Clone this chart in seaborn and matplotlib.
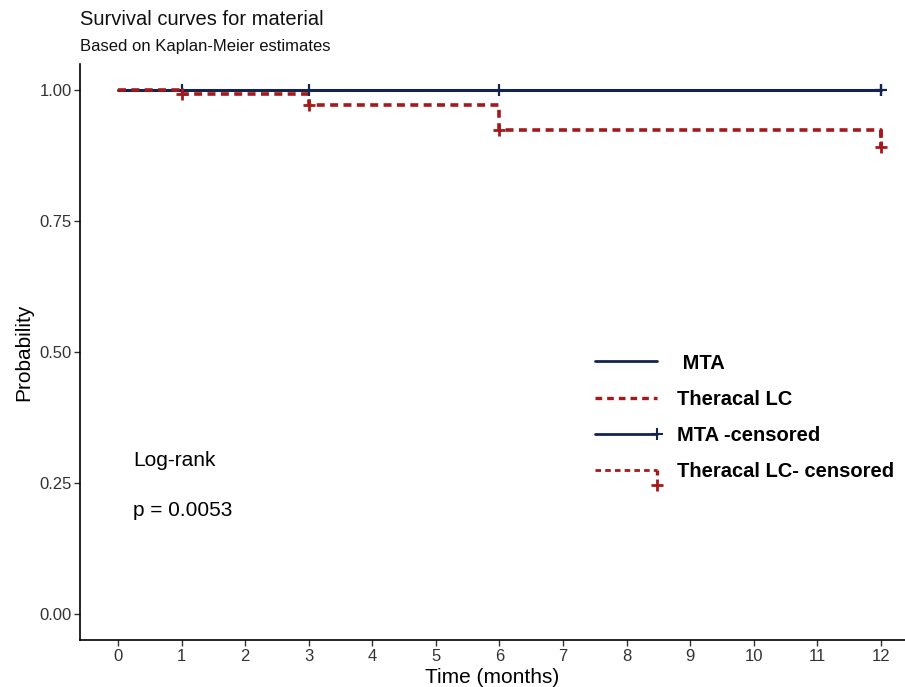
import pandas as pd
import seaborn as sns
import matplotlib
matplotlib.use("Agg")
import matplotlib.pyplot as plt
from matplotlib.lines import Line2D
from matplotlib.legend_handler import HandlerBase

# survival curve data
mta_time = [0, 1, 3, 6, 12]
mta_surv = [1.0, 1.0, 1.0, 1.0, 1.0]
mta_cens_time = [1, 3, 6, 12]
mta_cens_surv = [1.0, 1.0, 1.0, 1.0]

thc_time = [0, 1, 3, 6, 12]
thc_surv = [1.0, 0.992, 0.971, 0.923, 0.891]
thc_cens_time = [1, 3, 6, 12]
thc_cens_surv = [0.992, 0.971, 0.923, 0.891]

x_ticks = list(range(0, 13))
y_ticks = [0.0, 0.25, 0.5, 0.75, 1.0]
legend_labels = [" MTA", "Theracal LC", "MTA -censored", "Theracal LC- censored"]

mta_col = "#14254d"
thc_col = "#a3191c"
dash = (0, (2.2, 1.5))

curves = pd.DataFrame({
    "time": mta_time + thc_time,
    "surv": mta_surv + thc_surv,
    "group": ["MTA"] * len(mta_time) + ["Theracal LC"] * len(thc_time),
})
cens = pd.DataFrame({
    "time": mta_cens_time + thc_cens_time,
    "surv": mta_cens_surv + thc_cens_surv,
    "group": ["MTA"] * len(mta_cens_time) + ["Theracal LC"] * len(thc_cens_time),
})

sns.set_theme(style="ticks")
plt.rcParams["font.family"] = ["Liberation Sans", "DejaVu Sans"]

fig = plt.figure(figsize=(9.05, 6.87), dpi=100)
ax = fig.add_axes([0.0884, 0.068, 0.9116, 0.839])

# MTA solid step curve
sns.lineplot(data=curves[curves.group == "MTA"], x="time", y="surv",
             drawstyle="steps-post", color=mta_col, lw=2.2, ax=ax, legend=False)
# Theracal dashed step curve, plus the final drop at 12 months
thc = curves[curves.group == "Theracal LC"]
ax.step(thc.time, thc.surv, where="post", color=thc_col, lw=2.6, linestyle=dash)
ax.plot([thc.time.iloc[-1], thc.time.iloc[-1]],
        [thc.surv.iloc[-2], thc.surv.iloc[-1]],
        color=thc_col, lw=2.6, linestyle=dash)

# censor marks
mta_c = cens[cens.group == "MTA"]
sns.scatterplot(data=mta_c, x="time", y="surv", marker="|",
                s=70, color=mta_col, linewidth=1.6, ax=ax, legend=False, zorder=4)
sns.scatterplot(data=mta_c.iloc[-1:], x="time", y="surv", marker="+",
                s=70, color=mta_col, linewidth=1.6, ax=ax, legend=False, zorder=4)
sns.scatterplot(data=cens[cens.group == "Theracal LC"], x="time", y="surv", marker="+",
                s=70, color=thc_col, linewidth=2.0, ax=ax, legend=False, zorder=5)

ax.set_xlim(-0.6, 12.38)
ax.set_ylim(-0.05, 1.05)
ax.set_xticks(x_ticks)
ax.set_yticks(y_ticks)
ax.set_yticklabels([f"{v:.2f}" for v in y_ticks])
ax.tick_params(labelsize=12, length=4, width=1, pad=2, color="#333333",
               labelcolor="#333333")
ax.set_xlabel("Time (months)", fontsize=15, labelpad=3, color="black")
ax.set_ylabel("Probability", fontsize=15, labelpad=4, color="black")
sns.despine(ax=ax)
for s in ["left", "bottom"]:
    ax.spines[s].set_color("black")
    ax.spines[s].set_linewidth(1.2)

fig.text(0.0884, 0.972, "Survival curves for material", fontsize=14.5,
         ha="left", va="center", color="#111111")
fig.text(0.0884, 0.933, "Based on Kaplan-Meier estimates", fontsize=12,
         ha="left", va="center", color="#111111")

ax.text(0.236, 0.294, "Log-rank", fontsize=15, ha="left", va="center", color="black")
ax.text(0.236, 0.197, "p = 0.0053", fontsize=15, ha="left", va="center", color="black")


class CensorHandler(HandlerBase):
    def __init__(self, color, ls, drop):
        super().__init__()
        self.color = color
        self.ls = ls
        self.drop = drop

    def create_artists(self, legend, orig_handle, xdescent, ydescent, width, height,
                       fontsize, trans):
        y = height / 2 - ydescent
        x0, x1 = -xdescent, width - xdescent
        arts = [Line2D([x0, x1], [y, y], color=self.color, lw=2, linestyle=self.ls,
                       transform=trans)]
        if self.drop:
            arts.append(Line2D([x1, x1], [y, y - 0.55 * height], color=self.color, lw=2.4,
                               linestyle=(0, (1.5, 1)), transform=trans))
            arts.append(Line2D([x1], [y - 1.05 * height], marker="+", ms=8, mew=2,
                               color=self.color, transform=trans))
        else:
            arts.append(Line2D([x1], [y], marker="+", ms=8, mew=1.5,
                               color=self.color, transform=trans))
        return arts


class MtaCensored:
    pass


class ThcCensored:
    pass


h_mta = Line2D([], [], color=mta_col, lw=2)
h_thc = Line2D([], [], color=thc_col, lw=2.4, linestyle=(0, (2, 1.5)))
ax.legend([h_mta, h_thc, MtaCensored(), ThcCensored()], legend_labels,
          handler_map={MtaCensored: CensorHandler(mta_col, "-", False),
                       ThcCensored: CensorHandler(thc_col, (0, (2, 1.5)), True)},
          loc="center left", bbox_to_anchor=(0.624, 0.387), frameon=False,
          borderpad=0, borderaxespad=0, handlelength=3.1, handletextpad=1.0,
          labelspacing=0.85, labelcolor="black",
          prop={"family": "Liberation Sans", "weight": "bold", "size": 14.5})

fig.savefig("out.png", dpi=100)
